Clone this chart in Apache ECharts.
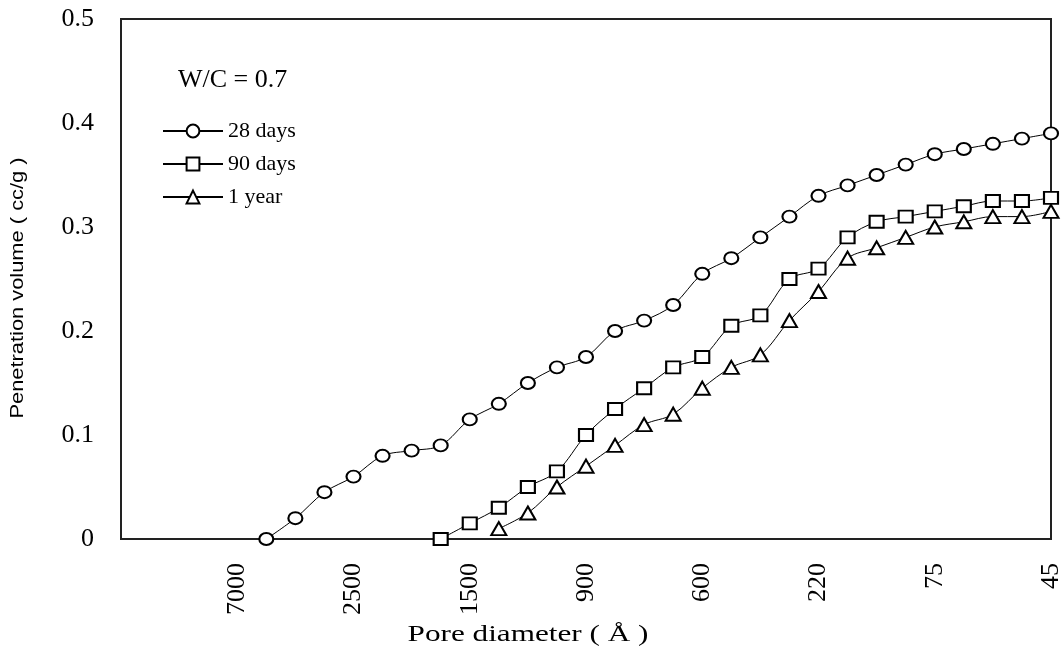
<!DOCTYPE html>
<html>
<head>
<meta charset="utf-8">
<script src="https://cdn.jsdelivr.net/npm/echarts@6/dist/echarts.min.js"></script>
<style>
  html, body { margin: 0; padding: 0; background: #fff; }
  #chart { width: 1064px; height: 658px; }
</style>
</head>
<body>
<div id="chart"></div>
<script>
// Pore-size steps along the x axis (33 intrusion steps, labelled every 4th step)
const stepCount = 33;
const tickLabels = ['7000', '2500', '1500', '900', '600', '220', '75', '45'];

// Cumulative penetration volume (cc/g); each series begins at its first step
const days28Start = 5;
const days28 = [0, 0.02, 0.045, 0.06, 0.08, 0.085, 0.09, 0.115, 0.13, 0.15, 0.165, 0.175,
  0.2, 0.21, 0.225, 0.255, 0.27, 0.29, 0.31, 0.33, 0.34, 0.35, 0.36, 0.37, 0.375, 0.38, 0.385, 0.39];

const days90Start = 11;
const days90 = [0, 0.015, 0.03, 0.05, 0.065, 0.1, 0.125, 0.145, 0.165, 0.175, 0.205, 0.215,
  0.25, 0.26, 0.29, 0.305, 0.31, 0.315, 0.32, 0.325, 0.325, 0.328];

const year1Start = 13;
const year1 = [0.01, 0.025, 0.05, 0.07, 0.09, 0.11, 0.12, 0.145, 0.165, 0.177, 0.21, 0.238,
  0.27, 0.28, 0.29, 0.3, 0.305, 0.31, 0.31, 0.315];

const serif = 'Liberation Serif, Times New Roman, serif';
const sans = 'Liberation Sans, Arial, sans-serif';

function toPoints(start, values) {
  return values.map((v, i) => [start + i, v]);
}

function makeSeries(name, symbol, start, values) {
  return {
    name: name,
    type: 'line',
    data: toPoints(start, values),
    symbol: symbol,
    symbolSize: symbol === 'triangle' ? [15, 13] : [14, 12],
    showAllSymbol: true,
    smooth: 0.35,
    clip: false,
    lineStyle: { color: '#000', width: 1 },
    itemStyle: { color: '#fff', borderColor: '#000', borderWidth: 2 },
    emphasis: { disabled: true },
    animation: false
  };
}

const chart = echarts.init(document.getElementById('chart'), null, { renderer: 'canvas' });

chart.setOption({
  backgroundColor: '#fff',
  animation: false,
  title: {
    text: 'W/C = 0.7',
    left: 178,
    top: 67,
    padding: 0,
    textStyle: { fontFamily: serif, fontSize: 26, fontWeight: 'normal', color: '#000' }
  },
  legend: {
    orient: 'vertical',
    left: 162,
    top: 120,
    padding: 0,
    itemWidth: 60,
    itemHeight: 16,
    itemGap: 11,
    selectedMode: false,
    textStyle: { fontFamily: serif, fontSize: 22, color: '#000', lineHeight: 22 },
    data: ['28 days', '90 days', '1 year']
  },
  grid: {
    left: 121,
    top: 19,
    right: 11,
    bottom: 119,
    show: true,
    borderColor: '#222',
    borderWidth: 2,
    backgroundColor: 'transparent'
  },
  xAxis: {
    type: 'value',
    min: 0,
    max: stepCount - 1,
    interval: 4,
    axisLine: { show: false },
    axisTick: { show: false },
    splitLine: { show: false },
    axisLabel: {
      rotate: 90,
      margin: 24,
      fontFamily: serif,
      fontSize: 26,
      color: '#000',
      formatter: function (v) {
        return v === 0 ? '' : (tickLabels[v / 4 - 1] || '');
      }
    }
  },
  yAxis: {
    type: 'value',
    min: 0,
    max: 0.5,
    interval: 0.1,
    axisLine: { show: false },
    axisTick: { show: false },
    splitLine: { show: false },
    axisLabel: {
      margin: 27,
      fontFamily: serif,
      fontSize: 26,
      color: '#000',
      formatter: function (v) {
        return v === 0 ? '0' : v.toFixed(1);
      }
    }
  },
  graphic: [
    {
      type: 'text',
      x: 18,
      y: 288,
      rotation: Math.PI / 2,
      scaleX: 1.15,
      style: {
        text: 'Penetration volume ( cc/g )',
        font: '19px ' + sans,
        fill: '#000',
        align: 'center',
        verticalAlign: 'middle'
      }
    },
    {
      type: 'text',
      x: 528,
      y: 635,
      scaleX: 1.3,
      style: {
        text: 'Pore diameter ( Å )',
        font: '24px ' + serif,
        fill: '#000',
        align: 'center',
        verticalAlign: 'middle'
      }
    }
  ],
  series: [
    makeSeries('28 days', 'circle', days28Start, days28),
    makeSeries('90 days', 'rect', days90Start, days90),
    makeSeries('1 year', 'triangle', year1Start, year1)
  ]
});
</script>
</body>
</html>
